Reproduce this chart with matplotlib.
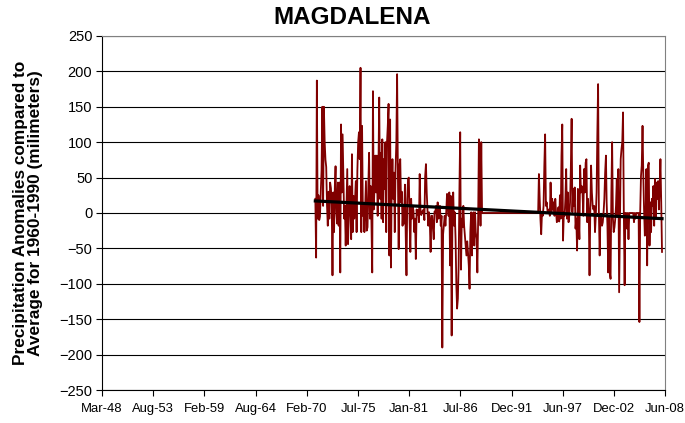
import matplotlib

matplotlib.use("Agg")
import matplotlib.dates as mdates
import matplotlib.pyplot as plt
import pandas as pd

# monthly precipitation anomalies (mm)
SEG_A_START = "1971-01-01"
SEG_A = [
    20, -63, 187, -8, 25, -10, -5, 30, 60, 150,
    10, 150, 100, 75, 65, 10, -18, 30, -8, 43, 35,
    12, -88, 29, -27, 38, 66, 1, -15, 43, -18, 43,
    -84, 125, 29, 111, 48, -8, 10, -46, 10, 62,
    -44, 1, 38, 5, -37, 83, -27, 24, -8, 20,
    45, -27, 60, 100, 114,
    76, 205, -27, 123, -4, 10, -27, 10, 45, -25, -20, 38,
    85, -8, 38, -13, -84, 172, 5, 38, 81, 29,
    81, -4, 62, 163, 20, 85, -8, 104, -13, 76,
    34, 100, -27, 100, 123, 154, -60, 132, -77, 29,
    76, 20, 57, -27, 62, 100, 196, 53, -51, 67,
    76, 15, 30, -18, 10, -15, 40, -32, -88,
    20, 48, 50, -13, -55, 20, -8, 10, 3, -27,
    -8, -65, 5, -2, 4, -13, 55, 5, -3, 2,
    1, 5, -10, 52, 69, 29, 3, -18, 1, -13,
    -55, -4, -4, -22, -37, 2, 1, 10, -13, 15,
    -8, -4, 10, -18, -4, -190, -30, -18, -4, -18,
    1, 27, 24, -4, 29, -74, 24, -173,
    1, 29, -18, 1, -37, -103, -135, -121, -74, 34,
    114, -80, -8, -20, 10, -18, -32, -46, -60, -40,
    -55, -74, -107, -27, 1, -60, -4, 1, -46, 1,
    -27, -37, -84, -8, 104, 62, -18, 100,
]
SEG_B_START = "1994-12-01"
SEG_B = [
    55, 20, -10, -30, 1, -4, 10, 67, 111, 10,
    15, 3, 1, 5, -4, 43, 1, 20, 5, 15,
    -4, 20, 1, -13, -4, 8, -12, 25, -8, 81,
    125, -39, 1, -4, 20, 62, -8, 29, -13, -4,
    15, 62, 133, 1, 34, 10, 36, -22, -8, -53,
    34, -4, -37, 67, 29, 38, 29, -4, 62, 29,
    71, 76, -13, 20, 1, -88, 5, 67, 29, 10,
    5, 10, -27, -4, 29, 109, 182, 1, -60, -4,
    -8, -18, -13, 1, 20, 57, 81, 15, -18, -84,
    -4, -84, -93, 29, 100, -8, -27, -20, -8, 10,
    48, -4, 62, -112, -18, 76, 90, 100, 142, 1, -102,
    0, 0, -22, 0, -37, 0, 0, 0, 0, 0,
    0, -13, 0, -8, 0, 0, 0, 0, -154,
    0, 52, 67, 123, 52, 5, -32, -8, 62, -74,
    67, 71, -46, 15, -27, 20, 10, 38, -18, 48,
    -8, 43, 20, 45, 5, 38, 76, 15, -55,
]
TREND_ENDS = [17, -8]

X_TICK_START = "1948-03-09"
X_TICK_STEP_DAYS = 2000
X_TICK_COUNT = 12
Y_TICKS = list(range(-250, 251, 50))

DARK_RED = "#800000"
FONT = "Liberation Sans"

dates_a = pd.date_range(SEG_A_START, periods=len(SEG_A), freq="MS")
dates_b = pd.date_range(SEG_B_START, periods=len(SEG_B), freq="MS")
# months between the two records plot as zero in the original
gap_dates = pd.date_range(dates_a[-1] + pd.offsets.MonthBegin(1),
                          dates_b[0] - pd.offsets.MonthBegin(1), freq="MS")
dates = dates_a.append(gap_dates).append(dates_b)
values = SEG_A + [0] * len(gap_dates) + SEG_B

fig = plt.figure(figsize=(6.85, 4.23), dpi=100)
ax = fig.add_axes([0.149, 0.078, 0.822, 0.837])

ax.plot(dates, values, color=DARK_RED, linewidth=1.3, zorder=3)
ax.plot([dates[0], dates[-1]], TREND_ENDS, color="black", linewidth=2.3, zorder=4)

x0 = mdates.date2num(pd.Timestamp(X_TICK_START))
xticks = [x0 + i * X_TICK_STEP_DAYS for i in range(X_TICK_COUNT)]
ax.set_xlim(xticks[0], xticks[-1])
ax.set_xticks(xticks)
ax.xaxis.set_major_formatter(mdates.DateFormatter("%b-%y"))
ax.set_ylim(-250, 250)
ax.set_yticks(Y_TICKS)

for lbl in ax.get_xticklabels():
    lbl.set_fontfamily(FONT)
    lbl.set_fontsize(9.4)
for lbl in ax.get_yticklabels():
    lbl.set_fontfamily(FONT)
    lbl.set_fontsize(10.5)

ax.grid(axis="y", color="black", linewidth=0.8)
ax.set_axisbelow(True)
ax.tick_params(direction="out", length=4, width=0.8, colors="black", pad=3)
ax.tick_params(axis="x", pad=5)
for side in ("top", "right"):
    ax.spines[side].set_color("#808080")
for side in ("left", "bottom"):
    ax.spines[side].set_color("black")

fig.text(0.514, 0.958, "MAGDALENA", fontsize=17.5, fontweight="bold",
         family=FONT, ha="center", va="center")
ax.set_ylabel("Precipitation Anomalies compared to\nAverage for 1960-1990 (milimeters)",
              fontsize=12.4, fontweight="bold", family=FONT, labelpad=12,
              linespacing=1.0)

fig.savefig("out.png", dpi=100)
